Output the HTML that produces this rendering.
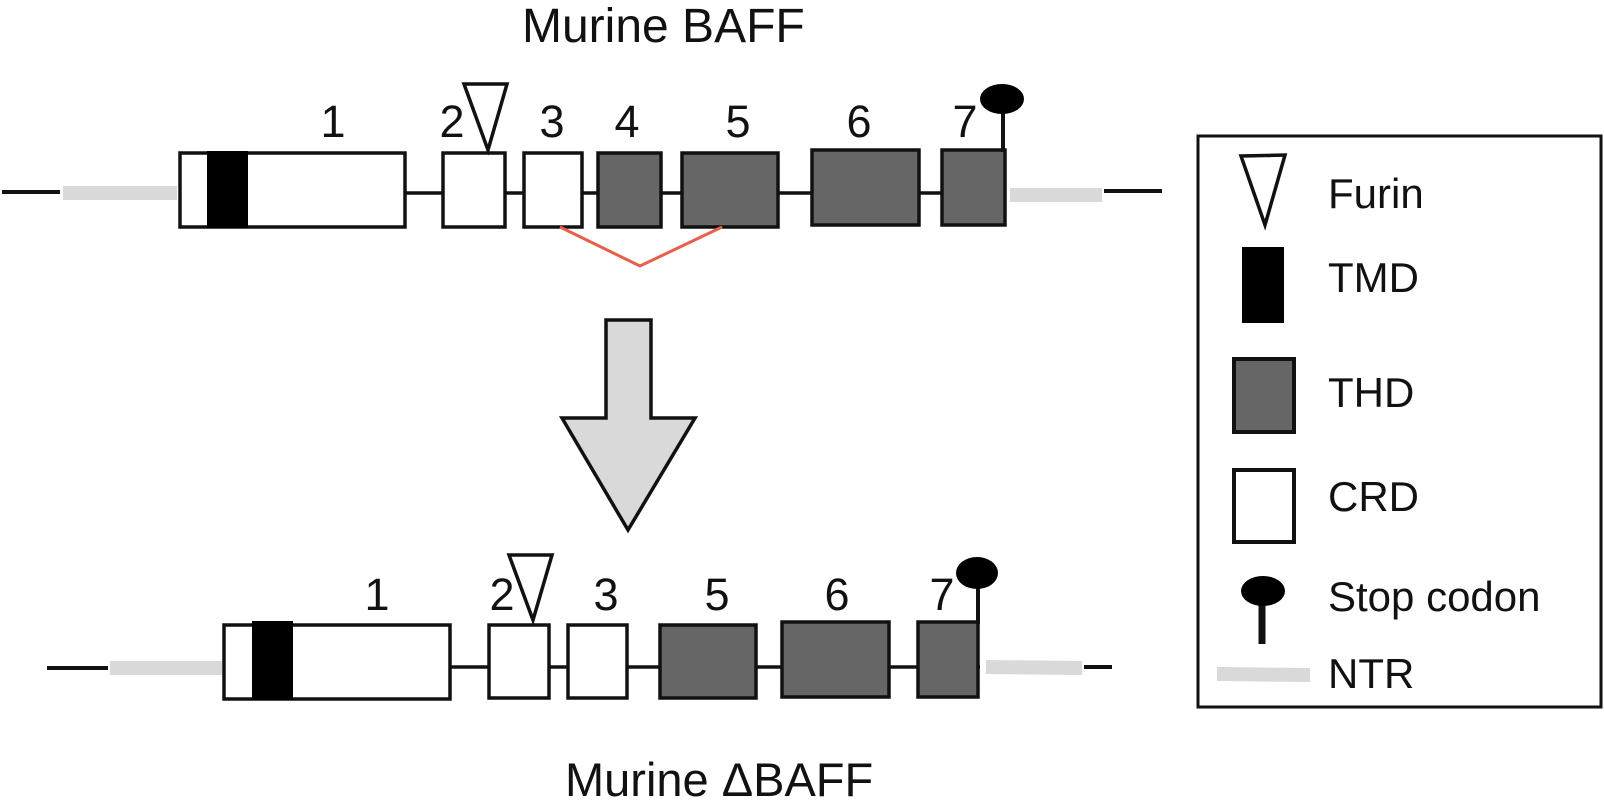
<!DOCTYPE html>
<html><head><meta charset="utf-8"><style>
html,body{margin:0;padding:0;background:#fff;}
svg{display:block;}
text{font-family:"Liberation Sans",Arial,sans-serif;fill:#111;}
</style></head><body>
<svg width="1604" height="812" viewBox="0 0 1604 812" xmlns="http://www.w3.org/2000/svg">
<!-- Titles -->
<text x="522" y="42" font-size="48">Murine BAFF</text>
<text x="565" y="796" font-size="47">Murine ΔBAFF</text>

<!-- ===== Upper gene ===== -->
<line x1="2" y1="192" x2="60" y2="192" stroke="#111" stroke-width="4"/>
<line x1="63" y1="193" x2="177" y2="193" stroke="#d9d9d9" stroke-width="14"/>
<line x1="405" y1="193" x2="1005" y2="193" stroke="#111" stroke-width="3.5"/>
<line x1="1010" y1="195" x2="1102" y2="195" stroke="#d9d9d9" stroke-width="14"/>
<line x1="1104" y1="191" x2="1162" y2="191" stroke="#111" stroke-width="4"/>
<g stroke="#111" stroke-width="3.5">
<rect x="180" y="153" width="225" height="74" fill="#fff"/>
<rect x="207" y="151" width="41" height="77" fill="#000" stroke="none"/>
<rect x="443" y="153" width="62" height="74" fill="#fff"/>
<rect x="524" y="153" width="58" height="74" fill="#fff"/>
<rect x="598" y="153" width="63" height="74" fill="#666"/>
<rect x="682" y="153" width="96" height="74" fill="#666"/>
<rect x="812" y="150" width="107" height="75" fill="#666"/>
<rect x="942" y="150" width="63" height="75" fill="#666"/>
</g>
<polygon points="464,84 507,84 488,150" fill="#fff" stroke="#111" stroke-width="3.5"/>
<line x1="1003" y1="105" x2="1003" y2="152" stroke="#111" stroke-width="4"/>
<ellipse cx="1002" cy="99" rx="22" ry="15" fill="#000"/>
<polyline points="560,227 640,266 722,227" fill="none" stroke="#e8604c" stroke-width="3"/>
<g font-size="45" text-anchor="middle">
<text x="333" y="137">1</text>
<text x="452" y="137">2</text>
<text x="552" y="137">3</text>
<text x="627" y="137">4</text>
<text x="738" y="137">5</text>
<text x="859" y="137">6</text>
<text x="965" y="137">7</text>
</g>

<!-- ===== Big arrow ===== -->
<polygon points="606,320 651,320 651,418 695,418 628,530 562,418 606,418" fill="#d9d9d9" stroke="#111" stroke-width="3.5" stroke-linejoin="miter"/>

<!-- ===== Lower gene ===== -->
<line x1="47" y1="668" x2="108" y2="668" stroke="#111" stroke-width="4"/>
<line x1="110" y1="668" x2="222" y2="668" stroke="#d9d9d9" stroke-width="14"/>
<line x1="450" y1="667" x2="980" y2="667" stroke="#111" stroke-width="3.5"/>
<line x1="986" y1="667" x2="1082" y2="668" stroke="#d9d9d9" stroke-width="14"/>
<line x1="1084" y1="667" x2="1112" y2="667" stroke="#111" stroke-width="4"/>
<g stroke="#111" stroke-width="3.5">
<rect x="224" y="625" width="226" height="74" fill="#fff"/>
<rect x="252" y="621" width="41" height="79" fill="#000" stroke="none"/>
<rect x="489" y="625" width="60" height="73" fill="#fff"/>
<rect x="568" y="625" width="59" height="73" fill="#fff"/>
<rect x="660" y="625" width="96" height="73" fill="#666"/>
<rect x="782" y="622" width="107" height="75" fill="#666"/>
<rect x="918" y="622" width="60" height="75" fill="#666"/>
</g>
<polygon points="509,555 552,555 533,620" fill="#fff" stroke="#111" stroke-width="3.5"/>
<line x1="978" y1="580" x2="978" y2="624" stroke="#111" stroke-width="4"/>
<ellipse cx="977" cy="573" rx="21" ry="16" fill="#000"/>
<g font-size="45" text-anchor="middle">
<text x="377" y="610">1</text>
<text x="502" y="610">2</text>
<text x="606" y="610">3</text>
<text x="717" y="610">5</text>
<text x="837" y="610">6</text>
<text x="942" y="610">7</text>
</g>

<!-- ===== Legend ===== -->
<rect x="1198" y="136" width="403" height="571" fill="#fff" stroke="#111" stroke-width="3"/>
<polygon points="1241,156 1285,155 1265,225" fill="#fff" stroke="#111" stroke-width="3.5"/>
<rect x="1242" y="247" width="42" height="76" fill="#000"/>
<rect x="1234" y="359" width="60" height="73" fill="#666" stroke="#111" stroke-width="4"/>
<rect x="1234" y="470" width="60" height="72" fill="#fff" stroke="#111" stroke-width="4"/>
<line x1="1262" y1="600" x2="1262" y2="644" stroke="#111" stroke-width="7"/>
<ellipse cx="1263" cy="591" rx="22" ry="15" fill="#000"/>
<line x1="1217" y1="674" x2="1310" y2="675" stroke="#d9d9d9" stroke-width="14"/>
<g font-size="42">
<text x="1328" y="208">Furin</text>
<text x="1328" y="292">TMD</text>
<text x="1328" y="407">THD</text>
<text x="1328" y="511">CRD</text>
<text x="1328" y="611">Stop codon</text>
<text x="1328" y="688">NTR</text>
</g>
</svg>
</body></html>
